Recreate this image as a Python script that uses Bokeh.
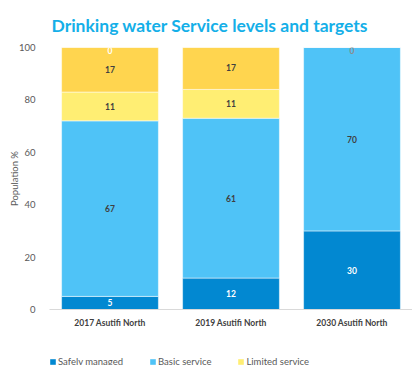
from bokeh.plotting import figure
from bokeh.models import ColumnDataSource, FactorRange, Legend, LegendItem, FixedTicker, Range1d
from bokeh.layouts import column
from bokeh.core.properties import value
from bokeh.embed import file_html
from bokeh.resources import INLINE

categories = ["2017 Asutifi North", "2019 Asutifi North", "2030 Asutifi North"]
series = ["Safely managed", "Basic service", "Limited service", "Unimproved"]
safely = [5, 12, 30]
basic = [67, 61, 70]
limited = [11, 11, 0]
unimproved = [17, 17, 0]
top_zero_cats = ["2017 Asutifi North", "2030 Asutifi North"]
top_zero_labels = ["0", "0"]
colors = ["#0288D1", "#4FC3F7", "#FFEE73", "#FFD54F"]
label_colors = ["#FFFFFF", "#404040", "#404040", "#404040"]
top_zero_colors = ["#FFFFFF", "#8C8C8C"]

FONT = "Lato"

data = {"cat": categories, "Safely managed": safely, "Basic service": basic,
        "Limited service": limited, "Unimproved": unimproved}
src = ColumnDataSource(data)

p = figure(x_range=FactorRange(*categories), y_range=Range1d(0, 100),
           width=412, height=343, output_backend="svg", toolbar_location=None,
           min_border_left=49, min_border_right=0, min_border_top=47, min_border_bottom=34)
p.outline_line_color = None
p.xgrid.grid_line_color = None
p.ygrid.grid_line_color = None
p.background_fill_color = "white"

p.title.text = "Drinking water Service levels and targets"
p.title.align = "left"
p.title.offset = 2
p.title.standoff = 24
p.title.text_font = FONT
p.title.text_font_size = "17.5px"
p.title.text_font_style = "bold"
p.title.text_color = "#14AFE8"

rs = p.vbar_stack(series, x="cat", width=0.8, color=colors, source=src, line_color="white", line_width=0.5)

# value labels
lx, ly, lt, lc = [], [], [], []
vals = [safely, basic, limited, unimproved]
for i, cat in enumerate(categories):
    base = 0
    for s, v in enumerate(vals):
        if v[i] > 0:
            lx.append(cat); ly.append(base + v[i] / 2); lt.append(str(v[i])); lc.append(label_colors[s])
        base += v[i]
for cat, t, c in zip(top_zero_cats, top_zero_labels, top_zero_colors):
    lx.append(cat); ly.append(99); lt.append(t); lc.append(c)
lsrc = ColumnDataSource(dict(x=lx, y=ly, t=lt, c=lc))
p.text(x="x", y="y", text="t", text_color="c", source=lsrc, text_align="center",
       text_baseline="middle", text_font=value(FONT), text_font_size="8.5px", text_font_style="bold")

ya = p.yaxis[0]
ya.ticker = FixedTicker(ticks=[0, 20, 40, 60, 80, 100])
ya.axis_line_color = None
ya.major_tick_line_color = None
ya.minor_tick_line_color = None
ya.major_label_text_color = "#595959"
ya.major_label_text_font = FONT
ya.major_label_text_font_size = "9.5px"
ya.major_label_standoff = 8
ya.axis_label = "Population %"
ya.axis_label_text_font = FONT
ya.axis_label_text_font_size = "9.5px"
ya.axis_label_text_font_style = "normal"
ya.axis_label_text_color = "#595959"
ya.axis_label_standoff = -4

xa = p.xaxis[0]
xa.axis_line_color = "#D9D9D9"
xa.major_tick_line_color = None
xa.minor_tick_line_color = None
xa.major_label_text_font = FONT
xa.major_label_text_font_size = "8.5px"
xa.major_label_text_font_style = "bold"
xa.major_label_text_color = "#404040"
xa.major_label_standoff = 2

# legend strip (cut off at the bottom like the reference)
lg = figure(width=412, height=22, output_backend="svg", toolbar_location=None,
            x_range=Range1d(0, 1), y_range=Range1d(0, 1),
            x_axis_location=None, y_axis_location=None,
            min_border=0, min_border_left=0, min_border_right=0, min_border_top=0, min_border_bottom=0)
lg.grid.visible = False
lg.outline_line_color = None
dummy = [lg.quad(left=[5], right=[6], top=[5], bottom=[6], fill_color=colors[k], line_color=None)
         for k in range(3)]
legend = Legend(items=[LegendItem(label=series[k], renderers=[dummy[k]]) for k in range(3)],
                orientation="horizontal", location=(0, -2), padding=0, margin=0,
                spacing=26, glyph_width=7, glyph_height=7, label_standoff=2,
                label_text_font=FONT, label_text_font_size="9.5px", label_text_color="#595959",
                border_line_color=None, background_fill_alpha=0, label_height=10)
lg.add_layout(legend, "center")

layout = column(p, lg, spacing=0)
open("out.html", "w").write(file_html(layout, INLINE))
